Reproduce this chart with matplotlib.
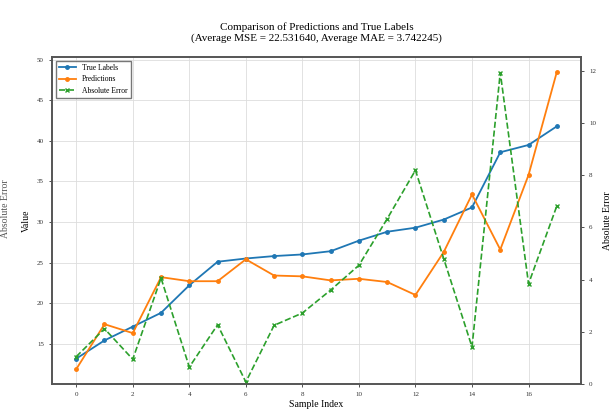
import matplotlib
matplotlib.use("Agg")
import matplotlib.pyplot as plt

plt.rcParams['font.family'] = ['Liberation Serif', 'DejaVu Serif']

sample_index = list(range(18))
true_labels = [13.15, 15.4, 17.1, 18.8, 22.2, 25.1, 25.5, 25.8, 26.0, 26.4,
               27.7, 28.8, 29.3, 30.3, 31.8, 38.6, 39.5, 41.8]
predictions = [11.85, 17.4, 16.3, 23.2, 22.7, 22.7, 25.4, 23.4, 23.3, 22.8,
               23.0, 22.6, 21.0, 26.3, 33.4, 26.6, 35.8, 48.5]
abs_error = [1.05, 2.12, 0.95, 4.06, 0.65, 2.27, 0.08, 2.25, 2.72, 3.6,
             4.55, 6.33, 8.19, 4.8, 1.42, 11.93, 3.84, 6.82]
x_ticks = list(range(0, 17, 2))
title = "Comparison of Predictions and True Labels\n(Average MSE = 22.531640, Average MAE = 3.742245)"

fig = plt.figure(figsize=(6.14, 4.17), dpi=100)
ax = fig.add_axes([0.085, 0.079, 0.861, 0.784])
ax2 = ax.twinx()

l1, = ax.plot(sample_index, true_labels, '-o', color='tab:blue', lw=1.3, ms=2.5, label='True Labels')
l2, = ax.plot(sample_index, predictions, '-o', color='tab:orange', lw=1.3, ms=2.5, label='Predictions')
l3, = ax2.plot(sample_index, abs_error, '--x', color='tab:green', lw=1.2, ms=2.5, label='Absolute Error')
ax2.set_ylim(bottom=0)

ax.set_xticks(x_ticks)
ax.grid(True, color='#dddddd', lw=0.6)
ax.tick_params(labelsize=5, length=2.5, width=0.6, colors='#333333')
ax2.tick_params(labelsize=5, length=2.5, width=0.6, colors='#333333')
for a in (ax, ax2):
    for s in a.spines.values():
        s.set_linewidth(1.2)
        s.set_color('#555555')

ax.set_xlabel('Sample Index', fontsize=7, labelpad=2)
ax.set_ylabel('Value', fontsize=7, labelpad=4)
ax2.set_ylabel('Absolute Error', fontsize=7, labelpad=5)
ax.set_title(title, fontsize=8, pad=12, linespacing=1.2)

leg = ax.legend(handles=[l1, l2, l3], loc='upper left', fontsize=5.5,
                frameon=True, fancybox=False, edgecolor='#555555',
                handlelength=2.2, borderpad=0.4, labelspacing=0.45)
leg.get_frame().set_linewidth(1.0)

fig.text(0.009, 0.5, 'Absolute Error', rotation=90, fontsize=7, ha='center', va='center', color='#555555')

fig.savefig('out.png', dpi=100)
